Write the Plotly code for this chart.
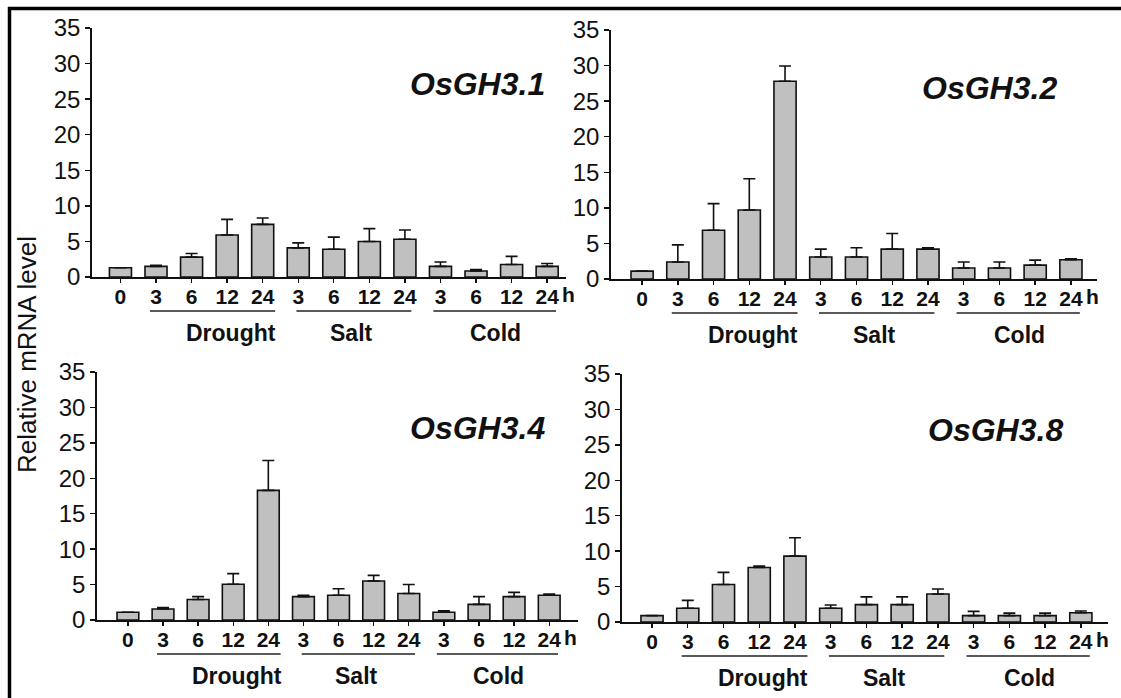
import plotly.graph_objects as go

# ---------------- data ----------------
tick_labels = ["0", "3", "6", "12", "24", "3", "6", "12", "24", "3", "6", "12", "24"]
genes = ["OsGH3.1", "OsGH3.2", "OsGH3.4", "OsGH3.8"]
groups = ["Drought", "Salt", "Cold"]

gh31_mean = [1.3, 1.5, 2.8, 5.9, 7.4, 4.1, 3.9, 5.0, 5.3, 1.5, 0.85, 1.75, 1.5]
gh31_err = [0, 0.15, 0.5, 2.2, 0.9, 0.7, 1.7, 1.8, 1.3, 0.6, 0.2, 1.15, 0.4]
gh32_mean = [1.1, 2.4, 6.85, 9.7, 27.8, 3.1, 3.1, 4.2, 4.2, 1.55, 1.55, 1.95, 2.7]
gh32_err = [0, 2.4, 3.75, 4.4, 2.15, 1.1, 1.3, 2.2, 0.2, 0.85, 0.85, 0.7, 0.15]
gh34_mean = [1.1, 1.55, 2.9, 5.05, 18.3, 3.3, 3.5, 5.5, 3.75, 1.1, 2.2, 3.3, 3.5]
gh34_err = [0, 0.2, 0.4, 1.5, 4.2, 0.2, 0.9, 0.8, 1.25, 0.2, 1.1, 0.6, 0.15]
gh38_mean = [0.9, 1.95, 5.3, 7.7, 9.3, 1.95, 2.45, 2.45, 3.95, 0.9, 0.9, 0.9, 1.3]
gh38_err = [0, 1.1, 1.7, 0.2, 2.6, 0.45, 1.1, 1.1, 0.7, 0.6, 0.35, 0.35, 0.25]

means = [gh31_mean, gh32_mean, gh34_mean, gh38_mean]
errs = [gh31_err, gh32_err, gh34_err, gh38_err]

# ---------------- layout geometry (pixels) ----------------
W, H = 1121, 698
panels = [
    dict(x0=92, x1=566, y0=28, y1=277, xr=[-0.8, 12.53], lab=(477, 84)),
    dict(x0=611, x1=1097, y0=30, y1=279, xr=[-0.87, 12.73], lab=(989, 88)),
    dict(x0=97, x1=578, y0=372, y1=620, xr=[-0.88, 12.82], lab=(477, 428)),
    dict(x0=622, x1=1108, y0=374, y1=622, xr=[-0.84, 12.76], lab=(995, 430)),
]
group_spans = [(0.83, 4.35), (4.95, 8.18), (8.8, 12.25)]
group_centers = [3.1, 6.5, 10.55]


def px(x):
    return x / W


def py(y):
    return 1 - y / H


FONT = "Arial, Liberation Sans, sans-serif"
fig = go.Figure()
shapes = []
annotations = []

for i, p in enumerate(panels):
    n = "" if i == 0 else str(i + 1)
    xa, ya = "x" + n, "y" + n
    fig.add_trace(go.Bar(
        x=list(range(len(tick_labels))), y=means[i],
        xaxis=xa, yaxis=ya, width=0.62,
        marker=dict(color="#c0c0c0", line=dict(color="#111111", width=1.6)),
        error_y=dict(type="data", array=errs[i], arrayminus=[0] * len(errs[i]),
                     symmetric=False, color="#111111", thickness=1.6, width=6),
        showlegend=False, hoverinfo="skip",
    ))
    fig.update_layout(**{
        "xaxis" + n: dict(
            domain=[px(p["x0"]), px(p["x1"])], range=p["xr"], anchor=ya,
            tickmode="array", tickvals=list(range(len(tick_labels))), ticktext=tick_labels,
            ticks="outside", ticklen=4, tickwidth=1.4, tickcolor="#111",
            ticklabelstandoff=-4, automargin=False, fixedrange=True,
            showline=True, linecolor="#111", linewidth=1.8,
            showgrid=False, zeroline=False,
            tickfont=dict(family=FONT, size=21, color="#111", weight="bold"),
        ),
        "yaxis" + n: dict(
            domain=[py(p["y1"]), py(p["y0"])], range=[0, 35], anchor=xa,
            tickmode="array", tickvals=[0, 5, 10, 15, 20, 25, 30, 35],
            ticks="outside", ticklen=5, tickwidth=1.4, tickcolor="#111",
            automargin=False, fixedrange=True,
            showline=True, linecolor="#111", linewidth=1.8,
            showgrid=False, zeroline=False,
            tickfont=dict(family=FONT, size=24, color="#111"),
        ),
    })
    # gene label
    annotations.append(dict(
        x=px(p["lab"][0]), y=py(p["lab"][1]), xref="paper", yref="paper",
        text="<b><i>%s</i></b>" % genes[i], showarrow=False,
        font=dict(family=FONT, size=32, color="#111"),
        xanchor="center", yanchor="middle",
    ))
    # "h" unit after last tick label
    annotations.append(dict(
        x=12.36, y=py(p["y1"] + 17), xref=xa, yref="paper",
        text="<b>h</b>", showarrow=False,
        font=dict(family=FONT, size=21, color="#111"),
        xanchor="left", yanchor="middle",
    ))
    # treatment group lines and labels
    for (a, b), c, g in zip(group_spans, group_centers, groups):
        shapes.append(dict(
            type="line", xref=xa, yref="paper",
            x0=a, x1=b, y0=py(p["y1"] + 34), y1=py(p["y1"] + 34),
            line=dict(color="#222", width=1.6),
        ))
        annotations.append(dict(
            x=c, y=py(p["y1"] + 56), xref=xa, yref="paper",
            text="<b>%s</b>" % g, showarrow=False,
            font=dict(family=FONT, size=23, color="#111"),
            xanchor="center", yanchor="middle",
        ))

# shared y-axis title
annotations.append(dict(
    x=px(27), y=py(355), xref="paper", yref="paper",
    text="Relative mRNA level", showarrow=False, textangle=-90,
    font=dict(family=FONT, size=26, color="#111"),
    xanchor="center", yanchor="middle",
))

# outer frame (top and left edges)
shapes.append(dict(type="line", xref="paper", yref="paper",
                   x0=px(8), x1=1, y0=py(8.5), y1=py(8.5),
                   line=dict(color="#000", width=3.5)))
shapes.append(dict(type="line", xref="paper", yref="paper",
                   x0=px(9.5), x1=px(9.5), y0=py(7), y1=0,
                   line=dict(color="#000", width=3.5)))

fig.update_layout(
    width=W, height=H, margin=dict(l=0, r=0, t=0, b=0, autoexpand=False),
    paper_bgcolor="white", plot_bgcolor="white",
    shapes=shapes, annotations=annotations, bargap=0.38,
)

fig.write_html("out.html", config={"displayModeBar": False, "staticPlot": True},
               post_script="document.body.style.margin='0';document.body.style.overflow='hidden';")
